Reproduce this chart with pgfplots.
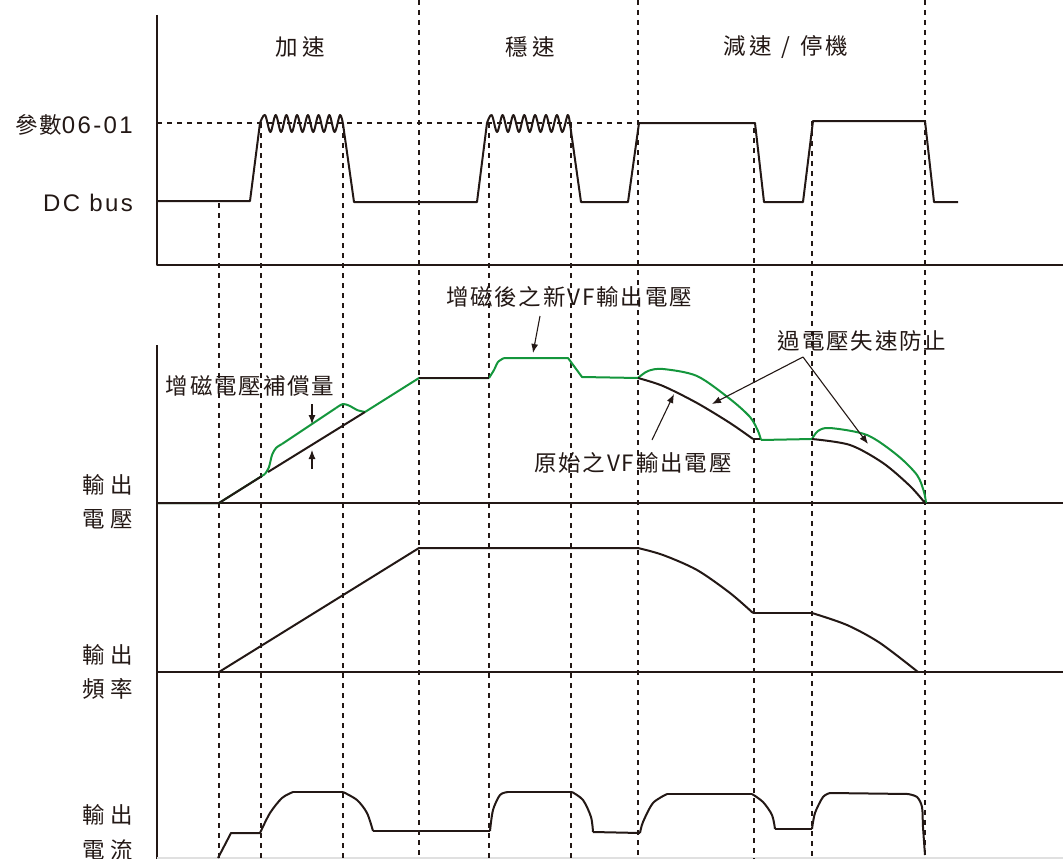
\documentclass[border=0pt]{standalone}
\usepackage{fontspec}
\setmainfont{Noto Sans CJK TC}[LetterSpace=8]
\newfontfamily\lat{Liberation Sans}[LetterSpace=10]
\usepackage{pgfplots}
\pgfplotsset{compat=1.18}
\usetikzlibrary{arrows.meta}
\definecolor{ink}{RGB}{35,24,21}
\definecolor{vgreen}{RGB}{20,150,60}
\tikzset{lab/.style={font=\fontsize{22.5}{24}\selectfont,text=ink,inner sep=0pt}}
\begin{document}
\begin{tikzpicture}
\begin{axis}[at={(0,0)},anchor=south west,scale only axis,width=1063pt,height=859pt,
  xmin=0,xmax=1063,ymin=0,ymax=859,y dir=reverse,axis lines=none,clip=false,
  every axis plot/.append style={line join=round}]
% ---- axes
\addplot[ink,line width=2.5pt] coordinates {(157,15) (157,265) (1063,265)};
\addplot[ink,line width=2.5pt] coordinates {(157,345) (157,859)};
\addplot[ink,line width=2.5pt] coordinates {(157,503) (1063,503)};
\addplot[ink,line width=2.5pt] coordinates {(157,672) (1063,672)};
\addplot[black!12,line width=1.5pt] coordinates {(157,858) (1063,858)};
% ---- dashed guides
\pgfplotsset{guide/.style={ink,line width=2.2pt,dash pattern=on 5pt off 5pt}}
\addplot[guide] coordinates {(157,123) (640,123)};
\addplot[guide] coordinates {(219,203) (219,859)};
\addplot[guide] coordinates {(261,123) (261,859)};
\addplot[guide] coordinates {(343,123) (343,859)};
\addplot[guide] coordinates {(419,0) (419,859)};
\addplot[guide] coordinates {(489,123) (489,859)};
\addplot[guide] coordinates {(571,123) (571,859)};
\addplot[guide] coordinates {(638,0) (638,859)};
\addplot[guide] coordinates {(754,128) (754,859)};
\addplot[guide] coordinates {(812,121) (812,859)};
\addplot[guide] coordinates {(925,0) (925,859)};
% ---- DC bus trace
\pgfplotsset{trace/.style={ink,line width=2pt}}
\addplot[trace] coordinates {(157,201) (250,201) (260,123)};
\addplot[trace,smooth,tension=0.55] coordinates {(260,123) (265,115) (270.4,132) (275.7,115) (281.1,132) (286.4,115) (291.8,132) (297.1,115) (302.5,132) (307.9,115) (313.2,132) (318.6,115) (323.9,132) (329.3,115) (334.6,132) (340,115) (343,124)};
\addplot[trace] coordinates {(343,124) (354,202) (477,202) (487,123)};
\addplot[trace,smooth,tension=0.55] coordinates {(487,123) (491.7,115) (497.1,132) (502.6,115) (508,132) (513.4,115) (518.9,132) (524.3,115) (529.7,132) (535.1,115) (540.6,132) (546,115) (551.4,132) (556.9,115) (562.3,132) (567.7,115) (570,124)};
\addplot[trace] coordinates {(570,124) (581,202) (628,202) (639,123) (755,123) (764,202) (803,202) (813,121) (925,121) (934,202) (958,202)};
% ---- output voltage (green, new VF)
\pgfplotsset{gtrace/.style={vgreen,line width=2pt}}
\addplot[gtrace] coordinates {(157,503) (219,503) (265,474)};
\addplot[gtrace,smooth] coordinates {(265,474) (269,467) (272,455) (276,448) (282,444)};
\addplot[gtrace] coordinates {(282,444) (336,408)};
\addplot[gtrace,smooth] coordinates {(336,408) (343,404) (350,406) (357,410) (365,412)};
\addplot[gtrace] coordinates {(365,412) (419,378) (489,378)};
\addplot[gtrace,smooth] coordinates {(489,378) (494,370) (498,362) (504,358)};
\addplot[gtrace] coordinates {(504,358) (568,358) (582,377) (638,378)};
\addplot[gtrace,smooth] coordinates {(638,378) (648,371) (663,369) (697,376) (730,399) (750,417) (758,431) (761,440)};
\addplot[gtrace] coordinates {(761,440) (812,439)};
\addplot[gtrace,smooth] coordinates {(812,439) (818,431) (830,428) (867,435) (897,455) (917,475) (924,492) (926,503)};
% ---- output voltage (black, original VF)
\addplot[trace] coordinates {(157,503) (219,503) (262,476)};
\addplot[trace] coordinates {(268,472) (365,412)};
\addplot[trace] coordinates {(419,378) (489,378)};
\addplot[trace,smooth] coordinates {(638,378) (663,386) (697,403) (730,423) (753,439)};
\addplot[trace] coordinates {(753,439) (760,439)};
\addplot[trace,smooth] coordinates {(812,439) (850,445) (883,463) (910,486) (925,503)};
% ---- output frequency
\addplot[trace] coordinates {(219,672) (419,548) (638,548)};
\addplot[trace,smooth] coordinates {(638,548) (663,555) (697,570) (730,593) (753,613)};
\addplot[trace] coordinates {(753,613) (812,613)};
\addplot[trace,smooth] coordinates {(812,613) (847,625) (880,643) (918,672)};
% ---- output current
\addplot[trace] coordinates {(218,858) (231,833) (260,833)};
\addplot[trace,smooth] coordinates {(260,833) (270,813) (282,798) (293,792)};
\addplot[trace] coordinates {(293,792) (343,792)};
\addplot[trace,smooth] coordinates {(343,792) (357,800) (367,813) (373,831)};
\addplot[trace] coordinates {(373,831) (490,831)};
\addplot[trace,smooth] coordinates {(490,831) (493,810) (500,795) (508,792)};
\addplot[trace] coordinates {(508,792) (572,792)};
\addplot[trace,smooth] coordinates {(572,792) (583,800) (591,817) (593,832)};
\addplot[trace] coordinates {(593,832) (640,833)};
\addplot[trace,smooth] coordinates {(640,833) (643,822) (653,803) (667,794)};
\addplot[trace] coordinates {(667,794) (752,794)};
\addplot[trace,smooth] coordinates {(752,794) (763,802) (772,815) (775,829)};
\addplot[trace] coordinates {(775,829) (812,829)};
\addplot[trace,smooth] coordinates {(812,829) (815,813) (823,797) (830,793)};
\addplot[trace] coordinates {(830,793) (908,794)};
\addplot[trace,smooth] coordinates {(908,794) (917,797) (922,807) (923,827) (925,855)};
% ---- annotation arrows
\pgfplotsset{arr/.style={ink,line width=1.1pt,-{Latex[length=9pt,width=7pt]}}}
\addplot[arr] coordinates {(540,316) (533,353)};
\addplot[arr] coordinates {(312,404) (312,424)};
\addplot[arr] coordinates {(312,469) (312,450)};
\addplot[arr] coordinates {(803,357) (712,404)};
\addplot[arr] coordinates {(803,357) (868,444)};
\addplot[arr] coordinates {(652,440) (674,394)};
% ---- labels
\node[lab] at (axis cs:300,47) {加\hspace{5pt}速};
\node[lab] at (axis cs:530,47) {穩\hspace{5pt}速};
\node[lab] at (axis cs:786,47) {減\hspace{3pt}速\hspace{10pt}/\hspace{10pt}停\hspace{3pt}機};
\node[lab,anchor=east] at (axis cs:133,125) {參數{\lat\fontsize{24}{26}\selectfont 06-01}};
\node[lab,anchor=east] at (axis cs:133,203) {\lat\fontsize{24}{26}\selectfont DC bus};
\node[lab] at (axis cs:569,297) {增磁後之新VF輸出電壓};
\node[lab] at (axis cs:250,386) {增磁電壓補償量};
\node[lab] at (axis cs:862,341) {過電壓失速防止};
\node[lab] at (axis cs:633,463) {原始之VF輸出電壓};
\node[lab] at (axis cs:108,485) {輸\hspace{6pt}出};
\node[lab] at (axis cs:108,519) {電\hspace{6pt}壓};
\node[lab] at (axis cs:108,655) {輸\hspace{6pt}出};
\node[lab] at (axis cs:108,689) {頻\hspace{6pt}率};
\node[lab] at (axis cs:108,815) {輸\hspace{6pt}出};
\node[lab] at (axis cs:108,850) {電\hspace{6pt}流};
\end{axis}
\pgfresetboundingbox
\path (0,0) rectangle (1063pt,859pt);
\end{tikzpicture}
\end{document}
